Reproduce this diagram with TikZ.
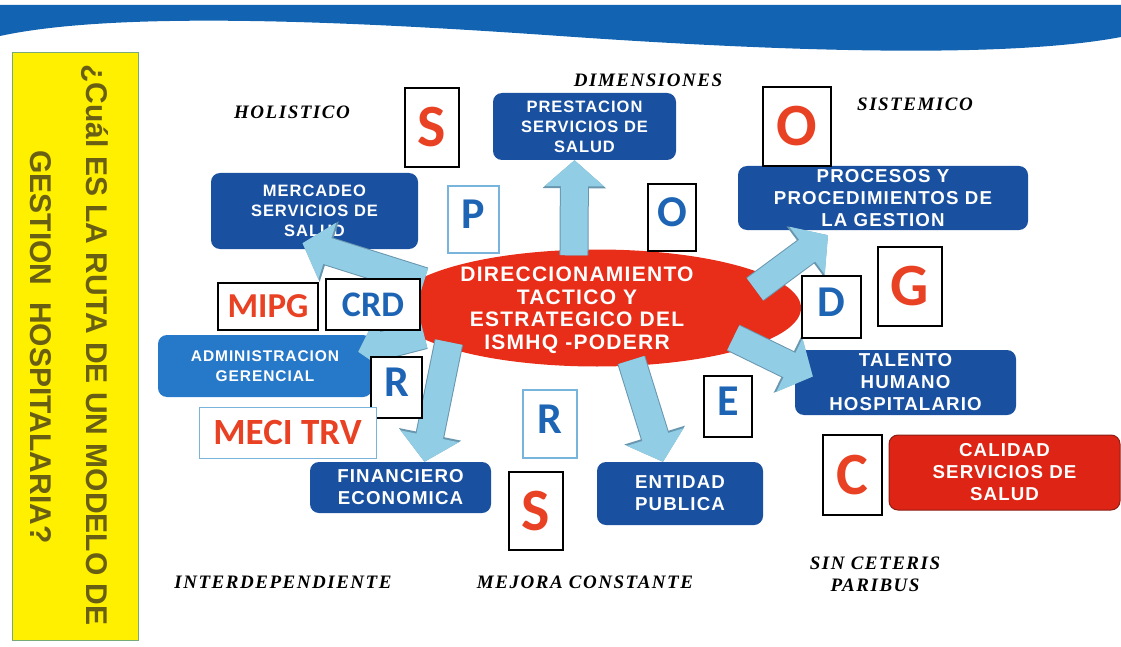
\documentclass[tikz,border=0pt]{standalone}
\usepackage{fontspec}
\usepackage{xcolor}
\usepackage{tikz}
\usetikzlibrary{shapes.geometric, arrows}
\usetikzlibrary{arrows.meta}
\newfontfamily\boxfont{Liberation Sans}[LetterSpace=6]
\newfontfamily\askfont{Liberation Sans}
\newfontfamily\dimfont{Liberation Serif}[LetterSpace=8]
\newfontfamily\letterfont{Carlito}
\definecolor{bandblue}{RGB}{18,100,178}
\definecolor{askyellow}{RGB}{255,240,0}
\definecolor{askedge}{RGB}{120,170,120}
\definecolor{askolive}{RGB}{105,95,20}
\definecolor{boxblue}{RGB}{25,80,160}
\definecolor{admblue}{RGB}{38,120,200}
\definecolor{ellred}{RGB}{232,45,25}
\definecolor{calred}{RGB}{222,36,20}
\definecolor{caledge}{RGB}{140,30,20}
\definecolor{arrowblue}{RGB}{145,205,228}
\definecolor{arrowedge}{RGB}{105,150,175}
\definecolor{letterred}{RGB}{232,65,35}
\definecolor{letterblue}{RGB}{30,100,180}
\definecolor{frameblue}{RGB}{120,180,220}
\tikzstyle{process} = [rectangle, rounded corners=9pt, fill=boxblue, text=white, align=center, inner sep=1pt, font=\boxfont\bfseries\fontsize{16.5}{20}\selectfont]
\tikzstyle{bigprocess} = [process, font=\boxfont\bfseries\fontsize{18.7}{22}\selectfont]
\tikzstyle{redletter} = [rectangle, draw=black, line width=1.2pt, fill=white, inner sep=0pt, text=letterred, font=\letterfont\bfseries\fontsize{60}{60}\selectfont]
\tikzstyle{blueletter} = [rectangle, draw=black, line width=1.2pt, fill=white, inner sep=0pt, text=letterblue, text depth=10pt, font=\letterfont\bfseries\fontsize{44}{44}\selectfont]
\tikzstyle{dimlabel} = [align=center, inner sep=0pt, font=\dimfont\bfseries\itshape\fontsize{19}{22}\selectfont]
\tikzstyle{asktext} = [rotate=-90, inner sep=0pt, text=askolive, font=\askfont\bfseries\fontsize{30}{30}\selectfont]
\tikzstyle{arrow} = [line width=27pt, draw=arrowblue, -{Triangle[length=26pt,width=58pt]}, shorten <=-6pt, preaction={draw=arrowedge, line width=29pt, -{Triangle[length=28pt,width=62pt]}}]
\begin{document}
\begin{tikzpicture}[x=1pt, y=-1pt, node distance=105pt]
\useasboundingbox (0,0) rectangle (1121,647);
\fill[bandblue] (0,5) -- (1121,5) -- (1121,37) .. controls (1000,60) and (760,50) .. (560,36) .. controls (360,22) and (120,10) .. (0,36) -- cycle;
\node (ask) [draw=askedge, fill=askyellow, minimum width=126pt, minimum height=588pt, inner sep=0pt] at (75,346) {};
\node (q1) [asktext] at (95,345) {¿Cuál ES LA RUTA DE UN MODELO DE};
\node (q2) [asktext] at (41,347) {GESTION\ \ HOSPITALARIA?};
\node (dim) [dimlabel] at (648,80) {DIMENSIONES};
\node (hol) [dimlabel] at (292,112) {HOLISTICO};
\node (sis) [dimlabel] at (915,104) {SISTEMICO};
\node (int) [dimlabel] at (283,582) {INTERDEPENDIENTE};
\node (mej) [dimlabel] at (585,582) {MEJORA CONSTANTE};
\node (sin) [dimlabel] at (875,574) {SIN CETERIS\\PARIBUS};
\node (pre) [process, minimum width=183pt, minimum height=67pt] at (584.5,126.5) {PRESTACION\\SERVICIOS DE\\SALUD};
\node (mer) [process, minimum width=207pt, minimum height=76pt] at (314.5,211) {MERCADEO\\SERVICIOS DE\\SALUD};
\node (pro) [bigprocess, minimum width=290pt, minimum height=64pt] at (883,198) {PROCESOS Y\\PROCEDIMIENTOS DE\\LA GESTION};
\node (adm) [process, fill=admblue, font=\boxfont\bfseries\fontsize{15.5}{20}\selectfont, minimum width=214pt, minimum height=62pt] at (265,366) {ADMINISTRACION\\GERENCIAL};
\node (tal) [bigprocess, minimum width=221pt, minimum height=65pt] at (905.5,382.5) {TALENTO\\HUMANO\\HOSPITALARIO};
\node (fin) [bigprocess, minimum width=181pt, minimum height=51pt] at (400.5,487.5) {FINANCIERO\\ECONOMICA};
\node (ent) [bigprocess, minimum width=166pt, minimum height=63pt] at (680,493.5) {ENTIDAD\\PUBLICA};
\node (cal) [bigprocess, fill=calred, draw=caledge, line width=1pt, minimum width=231pt, minimum height=75pt] at (1004.5,472.5) {CALIDAD\\SERVICIOS DE\\SALUD};
\node (dir) [ellipse, fill=ellred, minimum width=408pt, minimum height=117pt, inner sep=0pt] at (597,308) {};
\node (dirtext) [text=white, align=center, inner sep=0pt, font=\boxfont\bfseries\fontsize{21}{22.5}\selectfont] at (577,310) {DIRECCIONAMIENTO\\TACTICO Y\\ESTRATEGICO DEL\\ISMHQ -PODERR};
\draw [arrow] (dir.171) -- ([xshift=-12pt,yshift=6pt]mer.south);
\draw [arrow] (dir.189) -- ([xshift=-14pt,yshift=-17pt]adm.north east);
\draw [arrow] (dir.195) -- ([xshift=24pt]fin.north);
\draw [arrow] ([xshift=-23pt]dir.north) -- ([xshift=-10pt]pre.south);
\draw [arrow, shorten <=-20pt] (dir.10) -- ([xshift=-55pt,yshift=-5pt]pro.south);
\draw [arrow, shorten <=-20pt] (dir.-14) -- ([xshift=18pt,yshift=6pt]tal.west);
\draw [arrow] (dir.-58) -- ([xshift=-17pt]ent.north);
\node (s1) [redletter, minimum width=54pt, minimum height=79pt] at (432,127.5) {S};
\node (o1) [redletter, minimum width=68pt, minimum height=79pt] at (797,126.5) {O};
\node (p1) [blueletter, draw=frameblue, minimum width=51pt, minimum height=67pt] at (473.5,219.5) {P};
\node (o2) [blueletter, minimum width=48pt, minimum height=67pt] at (672,217.5) {O};
\node (mipg) [redletter, font=\letterfont\bfseries\fontsize{35}{35}\selectfont, minimum width=100pt, minimum height=47pt] at (268,306.5) {MIPG};
\node (crd) [blueletter, right of=mipg, yshift=2pt, text depth=0pt, font=\letterfont\bfseries\fontsize{36}{36}\selectfont, minimum width=94pt, minimum height=51pt] {CRD};
\node (r1) [blueletter, minimum width=51pt, minimum height=61pt] at (396.5,387.5) {R};
\node (meci) [redletter, draw=frameblue, line width=0.8pt, font=\letterfont\bfseries\fontsize{37}{37}\selectfont, minimum width=177pt, minimum height=51pt] at (287.5,432.5) {MECI TRV};
\node (r2) [blueletter, draw=frameblue, minimum width=54pt, minimum height=68pt] at (550,424) {R};
\node (s2) [redletter, minimum width=54pt, minimum height=78pt] at (536,511) {S};
\node (e1) [blueletter, minimum width=48pt, minimum height=61pt] at (728,406.5) {E};
\node (d1) [blueletter, minimum width=59pt, minimum height=62pt] at (831.5,307) {D};
\node (g1) [redletter, minimum width=64pt, minimum height=79pt] at (910,286.5) {G};
\node (c1) [redletter, minimum width=59pt, minimum height=80pt] at (852.5,475) {C};
\end{tikzpicture}
\end{document}
